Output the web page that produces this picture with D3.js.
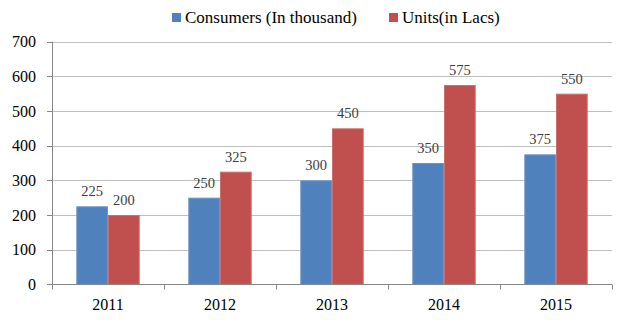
<!DOCTYPE html>
<html>
<head>
    <script src="https://cdnjs.cloudflare.com/ajax/libs/d3/7.8.5/d3.min.js"></script>
    <style>
        body { margin: 0; background: #fff; }
        svg { font-family: "Liberation Serif", "DejaVu Serif", serif; }
        .tick-label { font-size: 16px; fill: #000; }
        .value-label { font-size: 14.5px; fill: #404040; }
        .legend-label { font-size: 17px; fill: #000; }
    </style>
</head>
<body>
    <svg width="624" height="324"></svg>
    <script>
        // Data
        const years = ["2011", "2012", "2013", "2014", "2015"];
        const consumers = [225, 250, 300, 350, 375];
        const units = [200, 325, 450, 575, 550];
        const yTicks = [0, 100, 200, 300, 400, 500, 600, 700];
        const seriesNames = ["Consumers (In thousand)", "Units(in Lacs)"];
        const seriesColors = ["#4F81BD", "#C0504D"];
        const seriesEdges = ["#6A95CB", "#D06B68"];

        const series = [consumers, units];

        const svg = d3.select("svg");
        const margin = { left: 52, right: 12, top: 42, bottom: 40 };
        const width = 624, height = 324;

        const x = d3.scaleBand()
            .domain(years)
            .range([margin.left, width - margin.right])
            .paddingInner(0.434)
            .paddingOuter(0.217);

        const xOuter = d3.scaleBand()
            .domain(years)
            .range([margin.left, width - margin.right]);

        const xSub = d3.scaleBand()
            .domain(d3.range(series.length))
            .range([0, x.bandwidth()]);

        const y = d3.scaleLinear()
            .domain([0, 700])
            .range([284.3, 41.7]);

        // Gridlines
        svg.append("g")
            .selectAll("line")
            .data(yTicks.filter(d => d > 0))
            .join("line")
            .attr("x1", margin.left)
            .attr("x2", width - margin.right)
            .attr("y1", d => Math.round(y(d)) + 0.5)
            .attr("y2", d => Math.round(y(d)) + 0.5)
            .attr("stroke", "#BFBFBF")
            .attr("stroke-width", 1);

        // Bars
        series.forEach((vals, i) => {
            svg.append("g")
                .selectAll("rect")
                .data(vals)
                .join("rect")
                .attr("x", (d, j) => x(years[j]) + xSub(i) + 0.5)
                .attr("y", d => y(d) + 0.5)
                .attr("width", xSub.bandwidth() - 1)
                .attr("height", d => y(0) - y(d) - 0.5)
                .attr("fill", seriesColors[i])
                .attr("stroke", seriesEdges[i])
                .attr("stroke-width", 1);

            svg.append("g")
                .selectAll("text")
                .data(vals)
                .join("text")
                .attr("class", "value-label")
                .attr("text-anchor", "middle")
                .attr("x", (d, j) => x(years[j]) + xSub(i) + xSub.bandwidth() / 2)
                .attr("y", d => y(d) - 10)
                .text(d => d);
        });

        // Y axis line and labels
        svg.append("line")
            .attr("x1", margin.left + 0.5)
            .attr("x2", margin.left + 0.5)
            .attr("y1", y(700))
            .attr("y2", y(0))
            .attr("stroke", "#868686");

        svg.append("g")
            .selectAll("text")
            .data(yTicks)
            .join("text")
            .attr("class", "tick-label")
            .attr("text-anchor", "end")
            .attr("x", 36)
            .attr("y", d => y(d))
            .attr("dy", "0.35em")
            .text(d => d);

        // Y tick marks
        svg.append("g")
            .selectAll("line")
            .data(yTicks)
            .join("line")
            .attr("x1", margin.left - 5)
            .attr("x2", margin.left)
            .attr("y1", d => Math.round(y(d)) + 0.5)
            .attr("y2", d => Math.round(y(d)) + 0.5)
            .attr("stroke", "#868686");

        // X axis line, ticks at category boundaries, labels
        const base = Math.round(y(0)) + 0.5;
        svg.append("line")
            .attr("x1", margin.left)
            .attr("x2", width - margin.right)
            .attr("y1", base)
            .attr("y2", base)
            .attr("stroke", "#868686");

        svg.append("g")
            .selectAll("line")
            .data(years.concat(["end"]))
            .join("line")
            .attr("x1", (d, i) => Math.round(margin.left + i * xOuter.step()) + 0.5)
            .attr("x2", (d, i) => Math.round(margin.left + i * xOuter.step()) + 0.5)
            .attr("y1", base)
            .attr("y2", base + 5)
            .attr("stroke", "#868686");

        svg.append("g")
            .selectAll("text")
            .data(years)
            .join("text")
            .attr("class", "tick-label")
            .attr("text-anchor", "middle")
            .attr("x", d => xOuter(d) + xOuter.bandwidth() / 2)
            .attr("y", 310)
            .text(d => d);

        // Legend
        const legendX = [172, 389];
        const legend = svg.append("g")
            .selectAll("g")
            .data(seriesNames)
            .join("g")
            .attr("transform", (d, i) => `translate(${legendX[i]},12)`);

        legend.append("rect")
            .attr("width", 9)
            .attr("height", 9)
            .attr("y", 1)
            .attr("fill", (d, i) => seriesColors[i]);

        legend.append("text")
            .attr("class", "legend-label")
            .attr("x", 13)
            .attr("y", 5.5)
            .attr("dy", "0.35em")
            .text(d => d);
    </script>
</body>
</html>
